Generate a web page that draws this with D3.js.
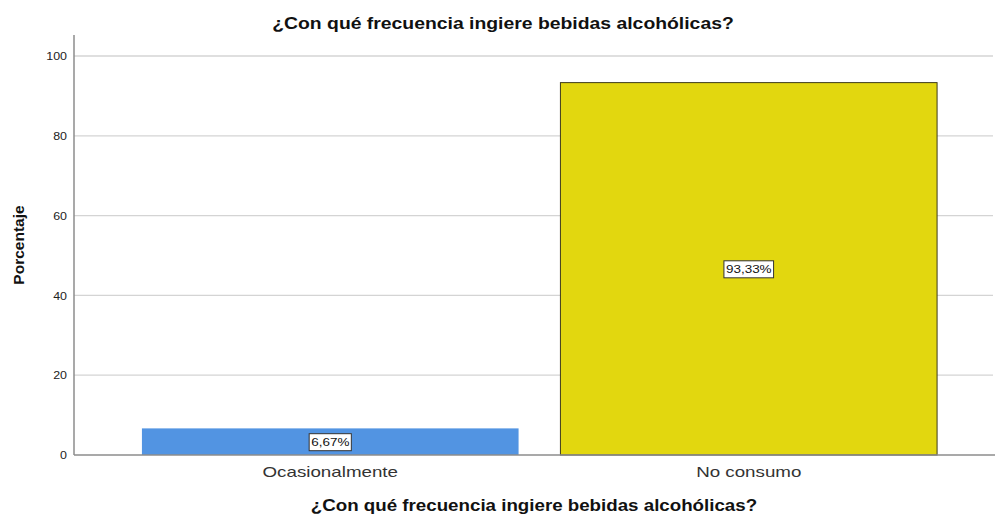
<!DOCTYPE html>
<html>
<head>
<meta charset="utf-8">
<script src="https://cdn.jsdelivr.net/npm/d3@7"></script>
<style>
  body { margin: 0; background: #fff; }
  text { font-family: "Liberation Sans", Arial, sans-serif; }
</style>
</head>
<body>
<div id="chart"></div>
<script>
// Data
var categories = ["Ocasionalmente", "No consumo"];
var percents = [6.67, 93.33];
var labels = ["6,67%", "93,33%"];
var yTicks = [0, 20, 40, 60, 80, 100];
var colors = ["#5294e2", "#e2d70f"];

var svgWidth = 995;
var svgHeight = 514;

var svg = d3.select("#chart")
  .append("svg")
  .attr("width", svgWidth)
  .attr("height", svgHeight);

var axisLeftX = 74;
var y0 = 455;

// the original text is drawn a bit wider than the font, so stretch it
function stretch(sel, k) {
  sel.each(function() {
    var w = this.getComputedTextLength();
    d3.select(this)
      .attr("textLength", w * k)
      .attr("lengthAdjust", "spacingAndGlyphs");
  });
}

// Scales
var xBand = d3.scaleBand()
  .domain(categories)
  .range([121, 958])
  .paddingInner(0.1)
  .paddingOuter(0.05);

var yLinear = d3.scaleLinear()
  .domain([0, 100])
  .range([y0, 56]);

// Grid lines
svg.append("g")
  .selectAll("line")
  .data(yTicks.filter(d => d > 0))
  .enter()
  .append("line")
  .attr("x1", axisLeftX)
  .attr("x2", 993)
  .attr("y1", d => yLinear(d))
  .attr("y2", d => yLinear(d))
  .attr("stroke", "#d4d4d4")
  .attr("stroke-width", 1.3);

// Bars
svg.append("g")
  .selectAll("rect")
  .data(categories)
  .enter()
  .append("rect")
  .attr("x", d => xBand(d))
  .attr("y", (d, i) => yLinear(percents[i]))
  .attr("width", xBand.bandwidth())
  .attr("height", (d, i) => y0 - yLinear(percents[i]))
  .attr("fill", (d, i) => colors[i])
  .attr("stroke", (d, i) => i === 1 ? "#3d3a1a" : "none")
  .attr("stroke-width", 1);

// Y axis
var leftAxis = d3.axisLeft(yLinear)
  .tickValues(yTicks)
  .tickSize(0)
  .tickPadding(7);

var yAxisG = svg.append("g")
  .attr("transform", `translate(${axisLeftX}, 0)`)
  .call(leftAxis);
yAxisG.select(".domain").remove();
yAxisG.selectAll("text")
  .attr("font-size", "11.5px")
  .attr("fill", "#222")
  .call(stretch, 1.08);

svg.append("line")
  .attr("x1", axisLeftX).attr("x2", axisLeftX)
  .attr("y1", 35).attr("y2", y0)
  .attr("stroke", "#8c8c8c")
  .attr("stroke-width", 1.5);

// X axis
var bottomAxis = d3.axisBottom(xBand)
  .tickSize(0)
  .tickPadding(11);

var xAxisG = svg.append("g")
  .attr("transform", `translate(0, ${y0})`)
  .call(bottomAxis);
xAxisG.select(".domain").remove();
xAxisG.selectAll("text")
  .attr("font-size", "15px")
  .attr("fill", "#333")
  .call(stretch, 1.25);

svg.append("line")
  .attr("x1", axisLeftX).attr("x2", 995)
  .attr("y1", y0).attr("y2", y0)
  .attr("stroke", "#8c8c8c")
  .attr("stroke-width", 1.5);

// Value labels with boxes
var labelG = svg.append("g")
  .selectAll("g")
  .data(categories)
  .enter()
  .append("g")
  .attr("transform", (d, i) => `translate(${xBand(d) + xBand.bandwidth() / 2}, ${(yLinear(percents[i]) + y0) / 2})`);

labelG.append("text")
  .attr("text-anchor", "middle")
  .attr("dy", "0.35em")
  .attr("font-size", "11.5px")
  .attr("fill", "#111")
  .text((d, i) => labels[i])
  .call(stretch, 1.17);

labelG.each(function() {
  var g = d3.select(this);
  var t = g.select("text").node();
  var w = +t.getAttribute("textLength");
  g.insert("rect", "text")
    .attr("x", -w / 2 - 2)
    .attr("y", -8)
    .attr("width", w + 4)
    .attr("height", 17)
    .attr("fill", "#fff")
    .attr("stroke", "#333")
    .attr("stroke-width", 1);
});

// Titles
svg.append("text")
  .attr("x", 503)
  .attr("y", 29)
  .attr("text-anchor", "middle")
  .attr("font-size", "16px")
  .attr("font-weight", "bold")
  .attr("fill", "#111")
  .text("¿Con qué frecuencia ingiere bebidas alcohólicas?")
  .call(stretch, 1.21);

svg.append("text")
  .attr("x", 534)
  .attr("y", 511)
  .attr("text-anchor", "middle")
  .attr("font-size", "16px")
  .attr("font-weight", "bold")
  .attr("fill", "#111")
  .text("¿Con qué frecuencia ingiere bebidas alcohólicas?")
  .call(stretch, 1.17);

svg.append("text")
  .attr("transform", "rotate(-90)")
  .attr("x", -245)
  .attr("y", 24)
  .attr("text-anchor", "middle")
  .attr("font-size", "15.5px")
  .attr("font-weight", "bold")
  .attr("fill", "#111")
  .text("Porcentaje");
</script>
</body>
</html>
